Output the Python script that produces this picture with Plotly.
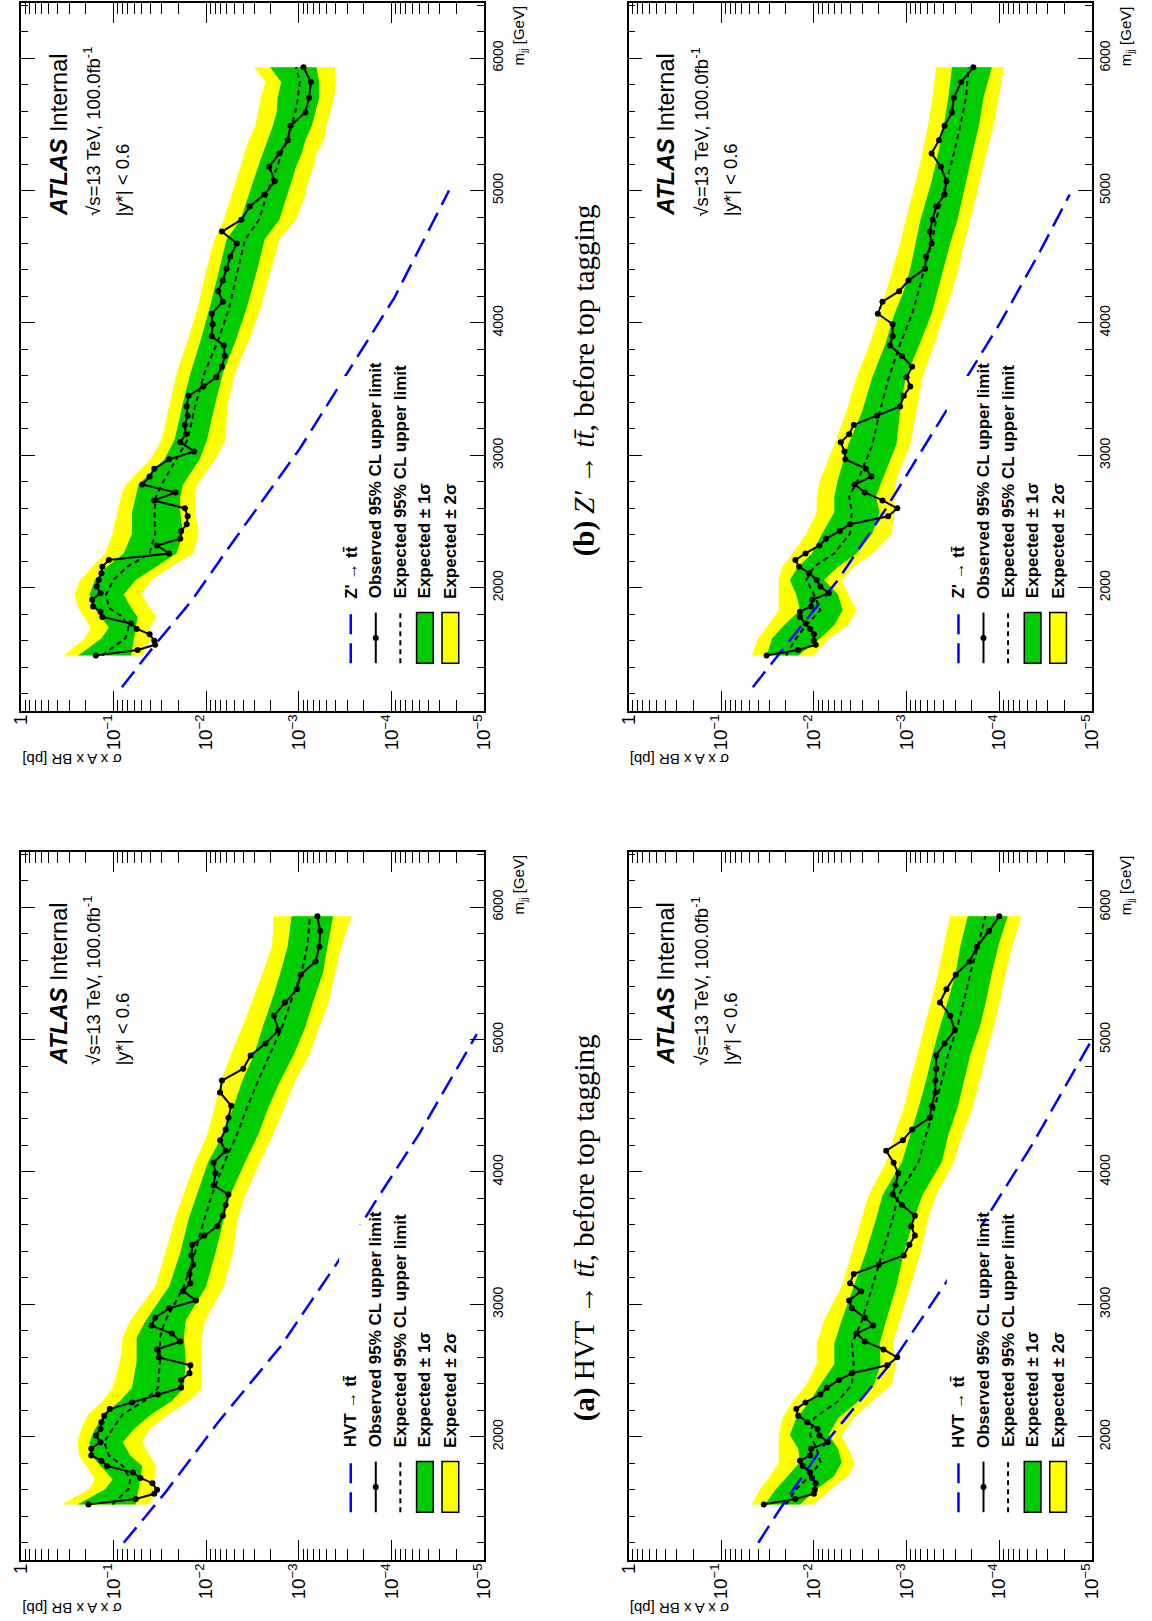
import numpy as np
import plotly.graph_objects as go

W, H = 1152, 1621
SANS = "Liberation Sans, Arial, sans-serif"
SERIF = "Liberation Serif, DejaVu Serif, serif"
GREEN = "#00cc00"
YELLOW = "#ffff00"
BLUE = "#0000ff"

# Resonance mass points of the limit scan [GeV]
mass = [1490, 1530, 1570, 1600, 1650, 1690, 1730, 1780, 1820, 1860,
        1910, 1960, 2010, 2060, 2110, 2160, 2210, 2260, 2320, 2370,
        2430, 2480, 2540, 2600, 2660, 2720, 2780, 2840, 2900, 2970,
        3030, 3100, 3160, 3230, 3300, 3370, 3450, 3520, 3590, 3670,
        3750, 3830, 3900, 3990, 4070, 4160, 4240, 4320, 4410, 4500,
        4600, 4690, 4780, 4880, 4970, 5070, 5180, 5280, 5380, 5490,
        5590, 5700, 5820, 5930]

# All limits below are log10(sigma x A x BR / pb)

# ---------------- Z' -> tt, panel (b) ----------------
zpa_obs = [-0.81, -1.26, -1.45, -1.44, -1.39, -1.25, -1.19, -0.88, -0.86, -0.78,
           -0.77, -0.86, -0.82, -0.84, -0.87, -0.88, -0.95, -1.60, -1.47, -1.72,
           -1.73, -1.79, -1.80, -1.77, -1.44, -1.67, -1.31, -1.39, -1.44, -1.60,
           -1.87, -1.72, -1.78, -1.77, -1.80, -1.79, -1.81, -1.97, -2.11, -2.17,
           -2.20, -2.19, -2.06, -2.07, -2.06, -2.18, -2.13, -2.18, -2.22, -2.26,
           -2.33, -2.17, -2.38, -2.47, -2.63, -2.74, -2.68, -2.79, -2.88, -2.91,
           -3.07, -3.11, -3.13, -3.05]
zpa_band_m = [1490, 1620, 1700, 1780, 1850, 1950, 2060, 2160, 2260, 2410, 2570,
              2690, 2780, 2970, 3120, 3370, 3620, 3870, 4120, 4400, 4630, 4780,
              4970, 5070, 5180, 5280, 5380, 5490, 5590, 5700, 5820, 5930]
zpa_up2 = [-0.46, -0.69, -0.75, -0.68, -0.62, -0.58, -0.64, -0.77, -0.91, -0.99, -1.04,
           -1.08, -1.13, -1.40, -1.52, -1.60, -1.68, -1.80, -1.91, -2.00, -2.09, -2.19,
           -2.28, -2.32, -2.37, -2.41, -2.46, -2.53, -2.56, -2.59, -2.64, -2.52]
zpa_up1 = [-0.62, -0.87, -0.95, -0.86, -0.79, -0.74, -0.80, -0.93, -1.11, -1.20, -1.20,
           -1.24, -1.27, -1.55, -1.66, -1.74, -1.83, -1.94, -2.04, -2.14, -2.22, -2.37,
           -2.46, -2.50, -2.56, -2.61, -2.66, -2.72, -2.76, -2.77, -2.81, -2.69]
zpa_exp = [-0.88, -1.13, -1.16, -1.10, -0.95, -0.92, -1.00, -1.15, -1.39, -1.45, -1.44,
           -1.46, -1.52, -1.68, -1.80, -1.88, -1.98, -2.13, -2.25, -2.34, -2.42, -2.57,
           -2.66, -2.70, -2.77, -2.81, -2.88, -2.92, -2.96, -2.99, -3.01, -2.97]
zpa_dn1 = [-1.19, -1.22, -1.24, -1.26, -1.19, -1.11, -1.24, -1.46, -1.68, -1.75, -1.72,
           -1.72, -1.75, -1.93, -2.01, -2.09, -2.18, -2.32, -2.44, -2.55, -2.63, -2.79,
           -2.87, -2.92, -2.97, -3.03, -3.07, -3.14, -3.18, -3.22, -3.22, -3.19]
zpa_dn2 = [-1.31, -1.41, -1.39, -1.46, -1.39, -1.30, -1.41, -1.62, -1.86, -1.92, -1.88,
           -1.88, -1.90, -2.10, -2.21, -2.23, -2.31, -2.46, -2.59, -2.70, -2.79, -2.97,
           -3.07, -3.10, -3.16, -3.19, -3.27, -3.30, -3.34, -3.38, -3.40, -3.39]
zpa_th_m = [1250, 1580, 1900, 2320, 3050, 3600, 4190, 5000]
zpa_th = [-1.09, -1.46, -1.84, -2.26, -3.01, -3.50, -4.03, -4.62]

# ---------------- Z' -> tt, second selection ----------------
zpb_obs = [-1.49, -1.83, -2.02, -2.00, -2.00, -1.96, -1.91, -1.85, -1.85, -1.97,
           -1.98, -2.16, -2.07, -2.03, -1.95, -1.84, -1.80, -1.91, -2.06, -2.13,
           -2.28, -2.39, -2.80, -2.90, -2.74, -2.55, -2.44, -2.62, -2.56, -2.34,
           -2.33, -2.29, -2.38, -2.43, -2.68, -2.93, -2.97, -3.04, -3.00, -3.06,
           -2.95, -2.82, -2.85, -2.85, -2.69, -2.74, -2.92, -3.02, -3.20, -3.21,
           -3.27, -3.25, -3.28, -3.32, -3.41, -3.43, -3.37, -3.27, -3.35, -3.41,
           -3.49, -3.51, -3.59, -3.72]
zpb_band_m = [1490, 1620, 1720, 1830, 1950, 2060, 2160, 2260, 2410, 2570, 2690, 2820,
              3080, 3330, 3590, 3840, 4070, 4240, 4410, 4600, 4780, 5070, 5280, 5490,
              5700, 5930]
zpb_up2 = [-1.33, -1.40, -1.51, -1.62, -1.62, -1.62, -1.66, -1.77, -1.92, -2.03, -2.03, -2.07,
           -2.22, -2.35, -2.46, -2.60, -2.71, -2.78, -2.85, -2.93, -2.99, -3.10, -3.17, -3.23,
           -3.28, -3.32]
zpb_up1 = [-1.49, -1.55, -1.68, -1.85, -1.81, -1.74, -1.83, -1.98, -2.09, -2.22, -2.22, -2.26,
           -2.37, -2.52, -2.63, -2.77, -2.87, -2.97, -3.04, -3.10, -3.15, -3.27, -3.34, -3.40,
           -3.45, -3.49]
zpb_exp = [-1.70, -1.81, -1.92, -2.07, -2.00, -1.92, -2.00, -2.22, -2.39, -2.41, -2.38, -2.48,
           -2.63, -2.71, -2.81, -2.93, -3.06, -3.13, -3.19, -3.27, -3.32, -3.43, -3.51, -3.58,
           -3.64, -3.67]
zpb_dn1 = [-1.83, -2.07, -2.22, -2.31, -2.26, -2.11, -2.26, -2.46, -2.63, -2.71, -2.67, -2.74,
           -2.89, -2.93, -2.99, -3.14, -3.27, -3.34, -3.40, -3.47, -3.55, -3.64, -3.71, -3.78,
           -3.83, -3.92]
zpb_dn2 = [-2.00, -2.16, -2.37, -2.46, -2.37, -2.30, -2.43, -2.63, -2.84, -2.87, -2.87, -2.89,
           -3.04, -3.10, -3.17, -3.30, -3.41, -3.49, -3.56, -3.62, -3.69, -3.79, -3.86, -3.94,
           -3.99, -4.05]
zpb_th_m = [1250, 1650, 2060, 2600, 3340, 3700, 4000, 4540, 4970]
zpb_th = [-1.34, -1.79, -2.26, -2.78, -3.43, -3.75, -4.01, -4.44, -4.76]

# ---------------- HVT -> tt, panel (a) ----------------
hva_obs = [-0.73, -1.24, -1.44, -1.47, -1.42, -1.29, -1.21, -0.93, -0.87, -0.76,
           -0.76, -0.86, -0.81, -0.86, -0.87, -0.90, -0.96, -1.20, -1.48, -1.73,
           -1.73, -1.82, -1.83, -1.49, -1.47, -1.72, -1.63, -1.41, -1.45, -1.60,
           -1.89, -1.75, -1.83, -1.82, -1.86, -1.84, -1.85, -1.98, -2.12, -2.18,
           -2.21, -2.24, -2.08, -2.10, -2.08, -2.21, -2.15, -2.21, -2.24, -2.27,
           -2.15, -2.17, -2.40, -2.48, -2.64, -2.78, -2.73, -2.85, -2.98, -3.02,
           -3.18, -3.22, -3.23, -3.20]
hva_band_m = [1490, 1605, 1680, 1780, 1860, 1960, 2060, 2170, 2270, 2370, 2570, 2750,
              2880, 3135, 3390, 3645, 3824, 4076, 4280, 4484, 4688, 4892, 5096, 5299,
              5503, 5707, 5930]
hva_up2 = [-0.44, -0.74, -0.80, -0.71, -0.63, -0.61, -0.65, -0.73, -0.88, -0.99, -1.07, -1.10,
           -1.18, -1.45, -1.56, -1.66, -1.75, -1.88, -2.01, -2.09, -2.16, -2.27, -2.39, -2.50,
           -2.61, -2.71, -2.73]
hva_up1 = [-0.61, -0.91, -0.99, -0.86, -0.76, -0.74, -0.80, -0.90, -1.07, -1.20, -1.25, -1.25,
           -1.35, -1.60, -1.72, -1.81, -1.90, -2.02, -2.18, -2.29, -2.39, -2.52, -2.61, -2.71,
           -2.80, -2.88, -2.92]
hva_exp = [-0.99, -1.16, -1.18, -1.10, -0.95, -0.90, -0.99, -1.10, -1.33, -1.48, -1.50, -1.50,
           -1.56, -1.76, -1.88, -1.98, -2.06, -2.20, -2.33, -2.44, -2.56, -2.69, -2.82, -2.92,
           -3.03, -3.09, -3.12]
hva_dn1 = [-1.24, -1.27, -1.29, -1.31, -1.18, -1.10, -1.22, -1.41, -1.63, -1.76, -1.78, -1.76,
           -1.78, -2.00, -2.10, -2.19, -2.26, -2.42, -2.56, -2.67, -2.80, -2.95, -3.07, -3.16,
           -3.26, -3.31, -3.37]
hva_dn2 = [-1.39, -1.46, -1.44, -1.46, -1.39, -1.31, -1.39, -1.59, -1.82, -1.95, -1.95, -1.95,
           -1.99, -2.19, -2.29, -2.34, -2.42, -2.58, -2.72, -2.84, -2.96, -3.12, -3.22, -3.33,
           -3.39, -3.46, -3.57]
hva_th_m = [1200, 1580, 2120, 2680, 3310, 3770, 4290, 5040]
hva_th = [-1.11, -1.56, -2.14, -2.80, -3.41, -3.82, -4.30, -4.92]

# ---------------- HVT -> tt, second selection ----------------
hvb_obs = [-1.46, -1.80, -2.00, -2.01, -2.02, -1.98, -1.96, -1.88, -1.85, -1.96,
           -1.97, -2.15, -2.06, -2.04, -1.93, -1.83, -1.81, -1.91, -2.07, -2.14,
           -2.27, -2.41, -2.79, -2.90, -2.75, -2.55, -2.46, -2.64, -2.55, -2.41,
           -2.38, -2.51, -2.39, -2.43, -2.70, -2.97, -3.03, -3.09, -3.05, -3.09,
           -2.95, -2.85, -2.88, -2.91, -2.86, -2.78, -2.96, -3.06, -3.25, -3.27,
           -3.31, -3.31, -3.32, -3.32, -3.41, -3.52, -3.47, -3.36, -3.43, -3.53,
           -3.68, -3.76, -3.89, -4.00]
hvb_band_m = [1490, 1605, 1707, 1809, 1911, 2013, 2140, 2268, 2395, 2548, 2702, 2880,
              3135, 3390, 3645, 3824, 4076, 4280, 4484, 4688, 4892, 5096, 5299, 5503,
              5707, 5930]
hvb_up2 = [-1.33, -1.42, -1.53, -1.62, -1.62, -1.62, -1.66, -1.77, -1.92, -2.03, -2.03, -2.11,
           -2.30, -2.41, -2.52, -2.59, -2.78, -2.87, -2.97, -3.04, -3.12, -3.19, -3.27, -3.34,
           -3.40, -3.47]
hvb_up1 = [-1.47, -1.59, -1.72, -1.85, -1.83, -1.74, -1.81, -1.96, -2.07, -2.22, -2.22, -2.30,
           -2.43, -2.56, -2.67, -2.74, -2.95, -3.04, -3.13, -3.21, -3.28, -3.36, -3.45, -3.53,
           -3.58, -3.66]
hvb_exp = [-1.70, -1.81, -1.96, -2.07, -2.03, -1.96, -2.00, -2.26, -2.41, -2.43, -2.41, -2.52,
           -2.63, -2.74, -2.85, -2.91, -3.13, -3.21, -3.30, -3.38, -3.45, -3.55, -3.62, -3.69,
           -3.77, -3.85]
hvb_dn1 = [-1.85, -2.03, -2.22, -2.30, -2.26, -2.16, -2.26, -2.48, -2.65, -2.72, -2.71, -2.78,
           -2.89, -2.97, -3.08, -3.17, -3.38, -3.45, -3.55, -3.62, -3.69, -3.79, -3.86, -3.92,
           -3.99, -4.09]
hvb_dn2 = [-2.00, -2.18, -2.37, -2.44, -2.37, -2.30, -2.43, -2.63, -2.84, -2.89, -2.85, -2.93,
           -3.04, -3.15, -3.23, -3.32, -3.51, -3.60, -3.71, -3.79, -3.86, -3.94, -4.01, -4.07,
           -4.14, -4.24]
hvb_th_m = [1200, 1440, 1940, 2600, 3170, 3750, 4200, 5000]
hvb_th = [-1.40, -1.62, -2.11, -2.88, -3.43, -3.95, -4.35, -5.00]

# Text
signal_zp = "Z' \u2192 tt\u0304"
signal_hvt = "HVT \u2192 tt\u0304"
legend_rows = ["Observed 95% CL upper limit", "Expected 95% CL upper limit",
               "Expected \u00b1 1\u03c3", "Expected \u00b1 2\u03c3"]
caption_b = "<b>(b)</b> <i>Z\u2032</i> \u2192 <i>tt\u0304</i>, before top tagging"
caption_a = "<b>(a)</b> HVT \u2192 <i>tt\u0304</i>, before top tagging"

# frame boxes in page pixels: (left, top, right, bottom)
panels = [
    dict(frame=(10, 3, 482, 711), signal=signal_zp, obs=zpa_obs, band_m=zpa_band_m,
         up2=zpa_up2, up1=zpa_up1, exp=zpa_exp, dn1=zpa_dn1, dn2=zpa_dn2,
         th_m=zpa_th_m, th=zpa_th),
    dict(frame=(629, 3, 1101, 711), signal=signal_zp, obs=zpb_obs, band_m=zpb_band_m,
         up2=zpb_up2, up1=zpb_up1, exp=zpb_exp, dn1=zpb_dn1, dn2=zpb_dn2,
         th_m=zpb_th_m, th=zpb_th),
    dict(frame=(10, 852, 482, 1560), signal=signal_hvt, obs=hva_obs, band_m=hva_band_m,
         up2=hva_up2, up1=hva_up1, exp=hva_exp, dn1=hva_dn1, dn2=hva_dn2,
         th_m=hva_th_m, th=hva_th),
    dict(frame=(629, 852, 1101, 1560), signal=signal_hvt, obs=hvb_obs, band_m=hvb_band_m,
         up2=hvb_up2, up1=hvb_up1, exp=hvb_exp, dn1=hvb_dn1, dn2=hvb_dn2,
         th_m=hvb_th_m, th=hvb_th),
]


def pb(vals):
    """decades -> pb"""
    return list(np.power(10.0, np.asarray(vals, dtype=float)))


fig = go.Figure()
annotations = []
shapes = []
axes = {}

LEG_X = [0.712, 0.766, 0.819, 0.872, 0.927]
SYM_Y0, SYM_Y1 = 0.0675, 0.139
TXT_Y = 0.156

for i, p in enumerate(panels, start=1):
    xa = "x" if i == 1 else f"x{i}"
    ya = "y" if i == 1 else f"y{i}"
    x0, y0, x1, y1 = p["frame"]
    bm = p["band_m"]
    common = dict(xaxis=xa, yaxis=ya, showlegend=False, hoverinfo="skip")

    fig.add_trace(go.Scatter(x=pb(p["up2"]) + pb(p["dn2"])[::-1], y=bm + bm[::-1],
                             fill="toself", fillcolor=YELLOW, mode="lines",
                             line=dict(width=0), **common))
    fig.add_trace(go.Scatter(x=pb(p["up1"]) + pb(p["dn1"])[::-1], y=bm + bm[::-1],
                             fill="toself", fillcolor=GREEN, mode="lines",
                             line=dict(width=0), **common))
    fig.add_trace(go.Scatter(x=pb(p["exp"]), y=bm, mode="lines",
                             line=dict(color="black", width=2, dash="5px,4px"), **common))
    fig.add_trace(go.Scatter(x=pb(p["th"]), y=p["th_m"], mode="lines",
                             line=dict(color=BLUE, width=2.5, dash="20px,9px"), **common))
    fig.add_trace(go.Scatter(x=pb(p["obs"]), y=mass, mode="lines+markers",
                             line=dict(color="black", width=2),
                             marker=dict(color="black", size=6), **common))

    tickfont = dict(family=SANS, size=15, color="black")
    axes["xaxis" if i == 1 else f"xaxis{i}"] = dict(
        domain=[x0 / W, x1 / W], anchor=ya, type="log", range=[0, -5],
        showline=True, linecolor="black", linewidth=1.5, mirror="ticks",
        ticks="inside", ticklen=20, tickwidth=1.2, tickcolor="black",
        dtick=1, exponentformat="power", tickangle=-90, tickfont=tickfont,
        ticklabelstandoff=-5,
        minor=dict(ticks="inside", ticklen=11, tickwidth=1, tickcolor="black",
                   dtick="D1", showgrid=False),
        showgrid=False, zeroline=False, fixedrange=True)
    axes["yaxis" if i == 1 else f"yaxis{i}"] = dict(
        domain=[1 - y1 / H, 1 - y0 / H], anchor=xa, range=[1070, 6416], side="right",
        showline=True, linecolor="black", linewidth=1.5, mirror="ticks",
        ticks="inside", ticklen=14, tickwidth=1.2, tickcolor="black",
        tick0=0, dtick=1000, tickangle=-90, tickfont=dict(family=SANS, size=14, color="black"),
        minor=dict(ticks="inside", ticklen=7, tickwidth=1, tickcolor="black",
                   tick0=0, dtick=200, showgrid=False),
        showgrid=False, zeroline=False, fixedrange=True)

    xd, yd = f"{xa} domain", f"{ya} domain"

    # ATLAS label block
    for fx, txt, size in [(0.081, "<b><i>ATLAS</i></b> Internal", 23.5),
                          (0.154, "\u221as=13 TeV, 100.0fb<sup>-1</sup>", 18.5),
                          (0.220, "|y*| < 0.6", 18.5)]:
        annotations.append(dict(xref=xd, yref=yd, x=fx, y=0.696, text=txt,
                                textangle=-90, xanchor="center", yanchor="bottom",
                                showarrow=False, font=dict(family=SANS, size=size, color="black")))

    # legend background
    shapes.append(dict(type="rect", xref=xd, yref=yd, x0=0.687, x1=0.955, y0=0.05, y1=0.473,
                       fillcolor="white", line=dict(width=0), layer="above"))
    # legend symbols
    shapes.append(dict(type="line", xref=xd, yref=yd, x0=LEG_X[0], x1=LEG_X[0],
                       y0=SYM_Y0, y1=SYM_Y1, line=dict(color=BLUE, width=2.5, dash="20px,9px"),
                       layer="above"))
    shapes.append(dict(type="line", xref=xd, yref=yd, x0=LEG_X[1], x1=LEG_X[1],
                       y0=SYM_Y0, y1=SYM_Y1, line=dict(color="black", width=2), layer="above"))
    shapes.append(dict(type="circle", xref=xd, yref=yd, xsizemode="pixel", ysizemode="pixel",
                       xanchor=LEG_X[1], yanchor=(SYM_Y0 + SYM_Y1) / 2,
                       x0=-3, x1=3, y0=-3, y1=3, fillcolor="black",
                       line=dict(width=0), layer="above"))
    shapes.append(dict(type="line", xref=xd, yref=yd, x0=LEG_X[2], x1=LEG_X[2],
                       y0=SYM_Y0, y1=SYM_Y1, line=dict(color="black", width=2, dash="5px,4px"),
                       layer="above"))
    for fx, col in [(LEG_X[3], GREEN), (LEG_X[4], YELLOW)]:
        shapes.append(dict(type="rect", xref=xd, yref=yd, x0=fx - 0.018, x1=fx + 0.018,
                           y0=SYM_Y0, y1=SYM_Y1, fillcolor=col,
                           line=dict(color="black", width=1.5), layer="above"))
    for fx, txt in zip(LEG_X, [p["signal"]] + legend_rows):
        annotations.append(dict(xref=xd, yref=yd, x=fx, y=TXT_Y, text=f"<b>{txt}</b>",
                                textangle=-90, xanchor="center", yanchor="bottom",
                                showarrow=False, font=dict(family=SANS, size=17, color="black")))

    # axis titles
    annotations.append(dict(xref="paper", yref="paper", x=x0 / W, y=1 - (y1 + 49) / H,
                            text="\u03c3 x A x BR [pb]", textangle=180,
                            xanchor="left", yanchor="middle", showarrow=False,
                            font=dict(family=SANS, size=15, color="black")))
    annotations.append(dict(xref="paper", yref="paper", x=(x1 + 35) / W, y=1 - (y0 + 1) / H,
                            text="m<sub>jj</sub> [GeV]", textangle=-90,
                            xanchor="center", yanchor="top", showarrow=False,
                            font=dict(family=SANS, size=15, color="black")))

# sub-figure captions
for txt, yc in [(caption_b, 380), (caption_a, 1228)]:
    annotations.append(dict(xref="paper", yref="paper", x=584 / W, y=1 - yc / H, text=txt,
                            textangle=-90, xanchor="center", yanchor="middle",
                            showarrow=False, font=dict(family=SERIF, size=29, color="black")))

fig.update_layout(**axes)
fig.update_layout(width=W, height=H, margin=dict(l=0, r=0, t=0, b=0),
                  paper_bgcolor="white", plot_bgcolor="white",
                  annotations=annotations, shapes=shapes, showlegend=False)

fig.write_html("out.html")
